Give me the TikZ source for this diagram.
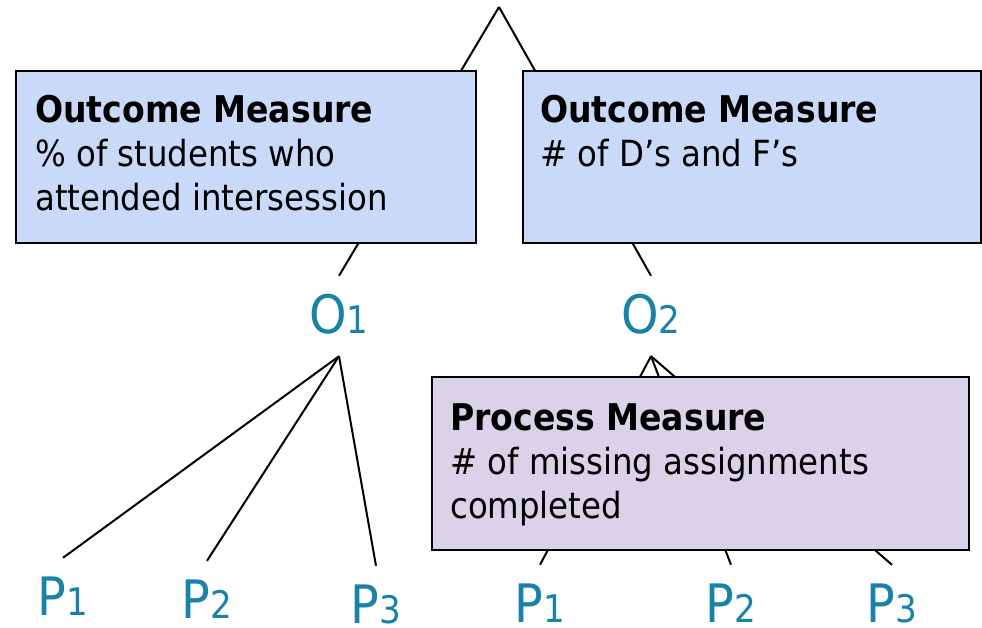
\documentclass[tikz,border=0pt]{standalone}
\usepackage{fontspec}
\setmainfont{DejaVu Sans Condensed}
\definecolor{boxblue}{HTML}{C9DAF8}
\definecolor{boxlav}{HTML}{D9D2E9}
\definecolor{labteal}{HTML}{1A81A8}
\tikzset{
  lab/.style={inner sep=0pt, text height=57pt, text depth=23pt, anchor=base,
    text=labteal, font=\fontsize{53}{53}\selectfont},
  leaf/.style={lab, text depth=0pt},
  mbox/.style={draw=black, line width=2pt, inner sep=0pt, anchor=north west},
  edgeline/.style={line width=2pt},
  btext/.style={inner sep=0pt, anchor=base west, font=\fontsize{36}{44}\selectfont}
}
\newcommand\labtxt[2]{#1{\fontsize{38}{38}\selectfont #2}}
\newcommand\boxhead[1]{{\bfseries\fontsize{36.8}{44}\selectfont #1}}
\begin{document}
\begin{tikzpicture}[x=1pt,y=-1pt]
\useasboundingbox (0,0) rectangle (982,628);
% tree nodes
\coordinate (root) at (499,7);
\node[lab] (O1) at (339,333) {\labtxt{O}{1}};
\node[lab] (O2) at (651,333) {\labtxt{O}{2}};
\node[leaf] (P1) at (63,615) {\labtxt{P}{1}};
\node[leaf] (P2) at (207,618) {\labtxt{P}{2}};
\node[leaf] (P3) at (376,623) {\labtxt{P}{3}};
\node[leaf] (P4) at (540,622) {\labtxt{P}{1}};
\node[leaf] (P5) at (731,622) {\labtxt{P}{2}};
\node[leaf] (P6) at (892,622) {\labtxt{P}{3}};
% connectors
\draw[edgeline] (root) -- (O1.north);
\draw[edgeline] (root) -- (O2.north);
\draw[edgeline] (O1.south) -- (P1.north);
\draw[edgeline] (O1.south) -- (P2.north);
\draw[edgeline] (O1.south) -- (P3.north);
\draw[edgeline] (O2.south) -- (P4.north);
\draw[edgeline] (O2.south) -- (P5.north);
\draw[edgeline] (O2.south) -- (P6.north);
% boxes drawn over the connectors
\node[mbox, fill=boxblue, minimum width=460pt, minimum height=172pt] (ob1) at (15,70) {};
\node[mbox, fill=boxblue, minimum width=458pt, minimum height=172pt] (ob2) at (522,70) {};
\node[mbox, fill=boxlav, minimum width=537pt, minimum height=173pt] (pb) at (431,376) {};
% box texts
\node[btext] (ob1t) at (35,123) {\parbox[t]{430pt}{\boxhead{Outcome Measure}\\
  \% of students who\\ attended intersession}};
\node[btext] (ob2t) at (540,123) {\parbox[t]{430pt}{\boxhead{Outcome Measure}\\
  \# of D’s and F’s}};
\node[btext] (pbt) at (450,430) {\parbox[t]{500pt}{\boxhead{Process Measure}\\
  \# of missing assignments\\ completed}};
\end{tikzpicture}
\end{document}
